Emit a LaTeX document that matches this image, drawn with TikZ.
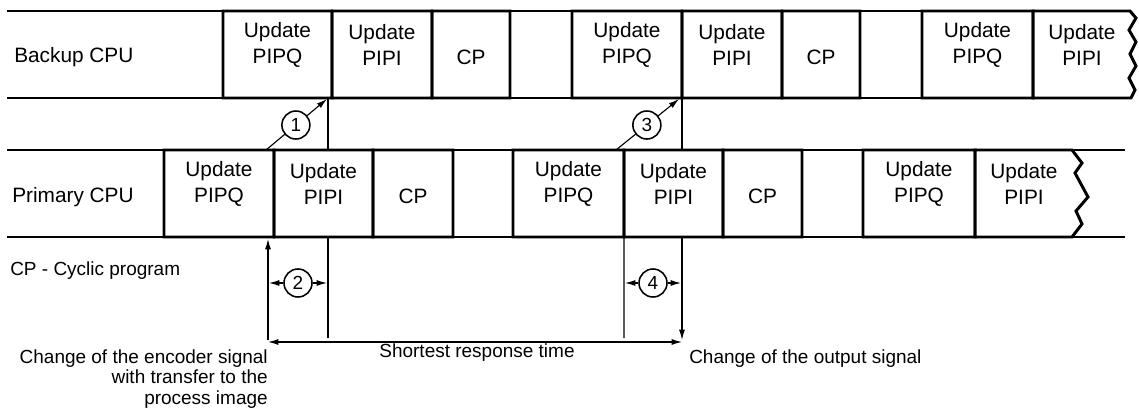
\documentclass[tikz,border=0pt]{standalone}
\usepackage{fontspec}
\setmainfont{Liberation Sans}
\usetikzlibrary{arrows.meta}
\newcommand\cellfont{\fontsize{14.8}{18.5}\selectfont}
\newcommand\notefnt{\fontsize{13.5}{14.9}\selectfont}
\tikzset{
  slot/.style={fill=white, minimum height=2.175cm, inner sep=0pt, outer sep=0pt},
  celltext/.style={font=\cellfont, align=center, inner sep=0pt},
  rim/.style={line width=2.1pt, line join=miter, fill=white},
  ring/.style={fill=black, even odd rule},
  lane/.style={line width=0.8pt},
  guide/.style={line width=0.8pt},
  tip/.style={-{Latex[length=2.6mm,width=1.5mm]}},
  tips/.style={{Latex[length=2.6mm,width=1.5mm]}-{Latex[length=2.6mm,width=1.5mm]}},
  num/.style={circle, draw, fill=white, line width=1.1pt, minimum size=0.7cm, inner sep=0pt, font=\notefnt},
  note/.style={font=\notefnt, inner sep=0pt},
  lanelabel/.style={font=\cellfont, inner sep=0pt, anchor=base west},
}

\begin{document}
\begin{tikzpicture}[x=0.025cm, y=-0.025cm]
  \useasboundingbox (0,0) rectangle (1139,414);

  % lanes
  \draw[lane] (7,11) -- (1131,11);
  \draw[lane] (7,98) -- (1131,98);
  \draw[lane] (7,150) -- (1125,150);
  \draw[lane] (7,237) -- (1125,237);
  \node[lanelabel] (bk) at (14,62) {Backup CPU};
  \node[lanelabel] (pr) at (12,202) {Primary CPU};

  % guide lines behind the boxes
  \coordinate (g1) at (328,98);
  \coordinate (g1b) at (328,338);
  \coordinate (g3) at (682,98);
  \coordinate (out) at (682,340);
  \draw[guide] (g1) -- (g1b);
  \draw[guide, tip] (g3) -- (out);

  % backup CPU
  \node[slot, minimum width=2.725cm] (bq1) at (277.5,54.5) {};
  \node[slot, minimum width=2.5cm] (bi1) at (382,54.5) {};
  \node[slot, minimum width=1.95cm] (bc1) at (471,54.5) {};
  \node[slot, minimum width=2.75cm] (bq2) at (627,54.5) {};
  \node[slot, minimum width=2.5cm] (bi2) at (732,54.5) {};
  \node[slot, minimum width=1.95cm] (bc2) at (821,54.5) {};
  \node[slot, minimum width=2.775cm] (bq3) at (977.5,54.5) {};

  % primary CPU
  \node[slot, minimum width=2.75cm] (pq1) at (219,193.5) {};
  \node[slot, minimum width=2.475cm] (pi1) at (323.5,193.5) {};
  \node[slot, minimum width=2.0cm] (pc1) at (413,193.5) {};
  \node[slot, minimum width=2.775cm] (pq2) at (568.5,193.5) {};
  \node[slot, minimum width=2.475cm] (pi2) at (673.5,193.5) {};
  \node[slot, minimum width=1.975cm] (pc2) at (762.5,193.5) {};
  \node[slot, minimum width=2.8cm] (pq3) at (919,193.5) {};

  % box outlines
  \foreach \b in {bq1,bi1,bc1,bq2,bi2,bc2,bq3,pq1,pi1,pc1,pq2,pi2,pc2,pq3}
    \fill[ring] ([shift={(-1.05pt,-1.05pt)}]\b.south west) rectangle ([shift={(1.05pt,1.05pt)}]\b.north east)
      ([shift={(1.05pt,1.05pt)}]\b.south west) rectangle ([shift={(-1.05pt,-1.05pt)}]\b.north east);
  \draw[rim] (bq3.north east) -- (1130,11) -- (1136,18) -- (1129,30) -- (1136,42)
    -- (1130,54) -- (1136,66) -- (1129,78) -- (1135,90) -- (1131,98) -- (bq3.south east) -- cycle;
  \draw[rim] (pq3.north east) -- (1072,150) -- (1082,163) -- (1075,173) -- (1088,197)
    -- (1076,211) -- (1082,224) -- (1072,237) -- (pq3.south east) -- cycle;

  % box texts
  \foreach \b/\t in {bq1/PIPQ,bi1/PIPI,bq2/PIPQ,bi2/PIPI,bq3/PIPQ,pq1/PIPQ,pi1/PIPI,pq2/PIPQ,pi2/PIPI,pq3/PIPQ}
    \node[celltext] (t\b) at ([yshift=0.25cm]\b.center) {Update\\\t};
  \foreach \b in {bc1,bc2,pc1,pc2}
    \node[celltext] (t\b) at ([yshift=-0.08cm]\b.center) {CP};
  \node[celltext] (tbi3) at (1082,44.5) {Update\\PIPI};
  \node[celltext] (tpi3) at (1024,183.5) {Update\\PIPI};

  % transfers
  \coordinate (c1s) at (266,150);
  \coordinate (c1e) at (327,99);
  \draw[guide, tip] (c1s) -- (c1e) node[num, pos=0.49] (n1) {1};
  \coordinate (c3s) at (616,150);
  \coordinate (c3e) at (679,99);
  \draw[guide, tip] (c3s) -- (c3e) node[num, pos=0.49] (n3) {3};

  % times
  \coordinate (enc) at (268,340);
  \coordinate (g2) at (624,338);
  \draw[guide, tip] (enc) -- (268,239);
  \draw[guide] (pi2.south west) -- (g2);
  \node[num] (n2) at (298,283) {2};
  \draw[guide, tip] (n2) -- (269,283);
  \draw[guide, tip] (n2) -- (327,283);
  \node[num] (n4) at (653,283) {4};
  \draw[guide, tip] (n4) -- (625,283);
  \draw[guide, tip] (n4) -- (681,283);
  \coordinate (rs) at (268,342);
  \coordinate (re) at (682,342);
  \draw[guide, tips] (rs) -- (re);

  % notes
  \node[note, anchor=base west] (cpn) at (10,275) {CP - Cyclic program};
  \node[note, anchor=base] (srt) at (477,357) {Shortest response time};
  \node[note, anchor=north east, align=right] (encn) at (268,349) {Change of the encoder signal\\with transfer to the\\process image};
  \node[note, anchor=base west] (outn) at (689,363) {Change of the output signal};
\end{tikzpicture}
\end{document}
